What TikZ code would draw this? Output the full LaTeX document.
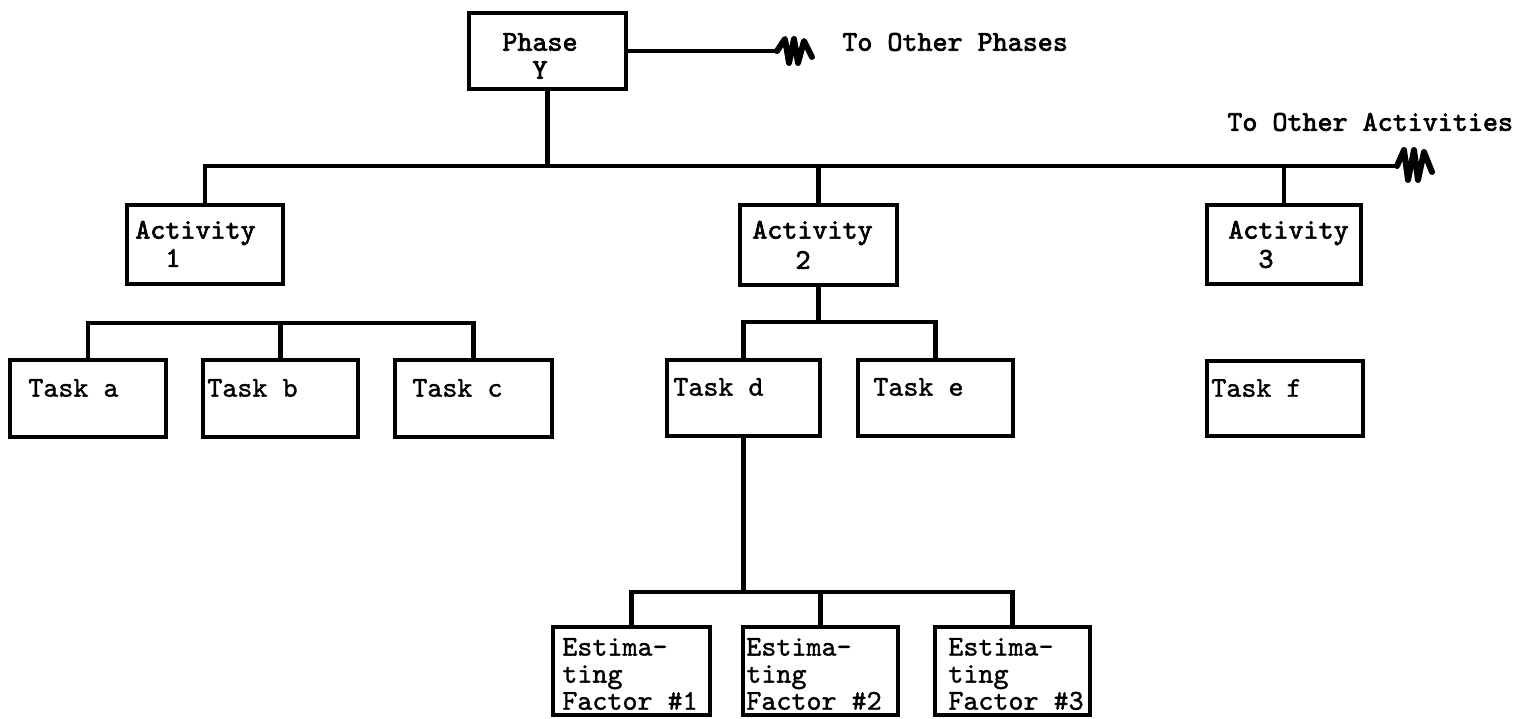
\documentclass[tikz,border=0pt]{standalone}
\usepackage{fontspec}
\newfontfamily\twm{lmmono10-regular.otf}[FakeBold=1.2]
\newfontfamily\twb{lmmono10-regular.otf}[FakeBold=2.4]
\usetikzlibrary{fit}
\begin{document}
\begin{tikzpicture}[x=0.02cm,y=-0.02cm,
  boxnode/.style={draw, line width=2.6pt, inner sep=0pt, rectangle},
  lab/.style={font=\fontsize{16.3}{15.4}\selectfont\twm, anchor=west, inner sep=0pt, align=left},
  boldlab/.style={lab, font=\fontsize{16.3}{15.4}\selectfont\twb},
  wire/.style={line width=2.6pt},
  coil/.style={line width=3.4pt, line join=round, line cap=round}]
\useasboundingbox (0,0) rectangle (1526,719);

% boxes
\node[boxnode, fit={(469,13) (626,89)}] (phase) {};
\node[boxnode, fit={(127,205) (283,284)}] (act1) {};
\node[boxnode, fit={(740,205) (897,285)}] (act2) {};
\node[boxnode, fit={(1207,205) (1361,284)}] (act3) {};
\node[boxnode, fit={(10,360) (166,437)}] (ta) {};
\node[boxnode, fit={(203,360) (358,437)}] (tb) {};
\node[boxnode, fit={(395,360) (552,437)}] (tc) {};
\node[boxnode, fit={(667,360) (820,436)}] (td) {};
\node[boxnode, fit={(858,360) (1013,436)}] (te) {};
\node[boxnode, fit={(1207,361) (1363,436)}] (tf) {};
\node[boxnode, fit={(553,627) (710,715)}] (f1) {};
\node[boxnode, fit={(743,627) (898,715)}] (f2) {};
\node[boxnode, fit={(935,627) (1090,715)}] (f3) {};

% texts
\node[boldlab, anchor=center] (phaseA) at (540,42) {Phase};
\node[boldlab, anchor=center] (phaseB) at (540,70) {Y};
\node[boldlab] (toph) at (842,42) {To Other Phases};
\node[boldlab] (toact) at (1227,122) {To Other Activities};
\node[boldlab] (a1t) at (135,233) {Activity};
\node[boldlab, anchor=center] (a1n) at (173,258) {1};
\node[boldlab] (a2t) at (752,233) {Activity};
\node[boldlab, anchor=center] (a2n) at (803,260) {2};
\node[boldlab] (a3t) at (1228,233) {Activity};
\node[boldlab, anchor=center] (a3n) at (1266,259) {3};
\node[lab] (tat) at (28,388) {Task a};
\node[lab] (tbt) at (207,388) {Task b};
\node[lab] (tct) at (412,388) {Task c};
\node[lab] (tdt) at (673,387) {Task d};
\node[lab] (tet) at (873,387) {Task e};
\node[lab] (tft) at (1211,388) {Task f};
\node[lab] (f1t) at (562,674) {Estima-\\ting\\Factor \#1};
\node[lab] (f2t) at (746,674) {Estima-\\ting\\Factor \#2};
\node[lab] (f3t) at (948,674) {Estima-\\ting\\Factor \#3};

% bus coordinates
\coordinate (sq1) at (777,51);
\coordinate (busR) at (1397,166);
\coordinate (tbus1) at (0,323);
\coordinate (tbus2) at (0,322);
\coordinate (fbus) at (0,592);

% phase to other phases
\draw[wire] (phase.east) -- (sq1);
\draw[coil] (sq1) -- ++(8,-12) -- ++(4,24) -- ++(5,-24) -- ++(4,24) -- ++(6,-22) -- ++(8,16);

% activity bus
\draw[wire] (phase.south) -- (phase.south |- busR);
\draw[wire] (act1.north) |- (busR);
\draw[wire] (act2.north) -- (act2.north |- busR);
\draw[wire] (act3.north) -- (act3.north |- busR);
\draw[coil] (busR) -- ++(7,-16) -- ++(4,30) -- ++(6,-30) -- ++(4,30) -- ++(6,-28) -- ++(8,20);

% tasks under activity 1
\draw[wire] (ta.north) |- (tc.north |- tbus1) -- (tc.north);
\draw[wire] (tb.north) -- (tb.north |- tbus1);

% tasks under activity 2
\draw[wire] (td.north) |- (te.north |- tbus2) -- (te.north);
\draw[wire] (act2.south) -- (act2.south |- tbus2);

% factors under task d
\draw[wire] (f1.north) |- (f3.north |- fbus) -- (f3.north);
\draw[wire] (f2.north) -- (f2.north |- fbus);
\draw[wire] (td.south) -- (td.south |- fbus);
\end{tikzpicture}
\end{document}
